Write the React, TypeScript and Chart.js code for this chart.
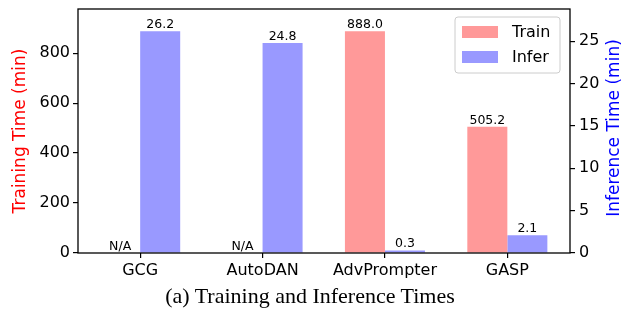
import React, { useEffect, useRef } from "react";
import { Chart, registerables } from "chart.js";

Chart.register(...registerables);

const categories = ["GCG", "AutoDAN", "AdvPrompter", "GASP"];
const trainTimes: (number | null)[] = [null, null, 888.0, 505.2];
const inferTimes: number[] = [26.2, 24.8, 0.3, 2.1];
const leftTicks = [0, 200, 400, 600, 800];
const rightTicks = [0, 5, 10, 15, 20, 25];
const seriesNames = ["Train", "Infer"];
const axisTitles = ["Training Time (min)", "Inference Time (min)"];
const caption = "(a) Training and Inference Times";

const FAMILY = "DejaVu Sans";
const TRAIN_COLOR = "#ff9999";
const INFER_COLOR = "#9999ff";

export default function App() {
  const canvasRef = useRef<HTMLCanvasElement | null>(null);

  useEffect(() => {
    document.body.style.margin = "0";
    const canvas = canvasRef.current;
    if (!canvas) return;

    const leftMax = Math.max(...trainTimes.map((v) => v ?? 0)) * 1.1;
    const rightMax = Math.max(...inferTimes) * 1.1;

    const overlayPlugin = {
      id: "overlay",
      afterDatasetsDraw(chart: any) {
        const ctx = chart.ctx;
        const area = chart.chartArea;
        ctx.save();
        // value labels
        ctx.font = `12.5px '${FAMILY}'`;
        ctx.fillStyle = "#000";
        ctx.textAlign = "center";
        ctx.textBaseline = "alphabetic";
        const trainMeta = chart.getDatasetMeta(0);
        trainMeta.data.forEach((bar: any, i: number) => {
          const v = trainTimes[i];
          const txt = v == null ? "N/A" : v.toFixed(1);
          ctx.fillText(txt, bar.x, bar.y - 3);
        });
        const inferMeta = chart.getDatasetMeta(1);
        inferMeta.data.forEach((bar: any, i: number) => {
          ctx.fillText(inferTimes[i].toFixed(1), bar.x, bar.y - 3);
        });
        // frame
        ctx.strokeStyle = "#000";
        ctx.lineWidth = 1.3;
        ctx.strokeRect(area.left, area.top, area.right - area.left, area.bottom - area.top);
        ctx.restore();
      },
      afterDraw(chart: any) {
        const ctx = chart.ctx;
        const area = chart.chartArea;
        ctx.save();
        // right axis title (bottom-to-top)
        ctx.font = `17px '${FAMILY}'`;
        ctx.fillStyle = "#0000ff";
        ctx.textAlign = "center";
        ctx.textBaseline = "middle";
        ctx.translate(615, (area.top + area.bottom) / 2 - 3);
        ctx.rotate(-Math.PI / 2);
        ctx.fillText(axisTitles[1], 0, 0);
        ctx.restore();

        // legend
        ctx.save();
        const bx = 455, by = 17, bw = 105, bh = 56, r = 3;
        ctx.beginPath();
        ctx.moveTo(bx + r, by);
        ctx.lineTo(bx + bw - r, by);
        ctx.arcTo(bx + bw, by, bx + bw, by + r, r);
        ctx.lineTo(bx + bw, by + bh - r);
        ctx.arcTo(bx + bw, by + bh, bx + bw - r, by + bh, r);
        ctx.lineTo(bx + r, by + bh);
        ctx.arcTo(bx, by + bh, bx, by + bh - r, r);
        ctx.lineTo(bx, by + r);
        ctx.arcTo(bx, by, bx + r, by, r);
        ctx.closePath();
        ctx.fillStyle = "rgba(255,255,255,0.8)";
        ctx.fill();
        ctx.strokeStyle = "#cccccc";
        ctx.lineWidth = 1;
        ctx.stroke();
        const colors = [TRAIN_COLOR, INFER_COLOR];
        ctx.font = `16px '${FAMILY}'`;
        ctx.textAlign = "left";
        ctx.textBaseline = "middle";
        seriesNames.forEach((name, i) => {
          const cy = by + 15 + i * 25;
          ctx.fillStyle = colors[i];
          ctx.fillRect(bx + 7, cy - 6, 36, 12);
          ctx.fillStyle = "#000";
          ctx.fillText(name, bx + 57, cy + 1);
        });
        ctx.restore();
      },
    };

    const tickGrid = {
      display: true,
      drawOnChartArea: false,
      drawTicks: true,
      tickLength: 5,
      color: "#000",
      lineWidth: 1.2,
      offset: false,
    };

    const zeroPad = (s: any) => {
      s.paddingTop = 0;
      s.paddingBottom = 0;
      s.paddingLeft = 0;
      s.paddingRight = 0;
    };

    const chart = new Chart(canvas, {
      type: "bar",
      data: {
        datasets: [
          {
            label: seriesNames[0],
            data: trainTimes.map((v, i) => ({ x: i, y: v ?? 0 })),
            backgroundColor: TRAIN_COLOR,
            borderWidth: 0,
            yAxisID: "y",
          },
          {
            label: seriesNames[1],
            data: inferTimes.map((v, i) => ({ x: i, y: v })),
            backgroundColor: INFER_COLOR,
            borderWidth: 0,
            yAxisID: "y1",
          },
        ],
      } as any,
      options: {
        animation: false,
        responsive: false,
        maintainAspectRatio: false,
        layout: { padding: { top: 9, bottom: 35, left: 0, right: 0 } },
        datasets: { bar: { categoryPercentage: 0.654, barPercentage: 1 } } as any,
        plugins: {
          legend: { display: false },
          tooltip: { enabled: false },
        },
        scales: {
          x: {
            type: "linear",
            min: -0.508,
            max: 3.512,
            offset: false,
            afterBuildTicks: (s: any) => {
              s.ticks = categories.map((_, i) => ({ value: i }));
            },
            ticks: {
              callback: (v: any) => categories[v as number] ?? "",
              font: { family: FAMILY, size: 16 },
              color: "#000",
              padding: 3,
              maxRotation: 0,
              autoSkip: false,
            },
            grid: tickGrid,
            border: { display: false },
            afterFit: (s: any) => {
              s.height = 30;
              zeroPad(s);
            },
          },
          y: {
            type: "linear",
            position: "left",
            min: 0,
            max: leftMax,
            afterBuildTicks: (s: any) => {
              s.ticks = leftTicks.map((v) => ({ value: v }));
            },
            ticks: {
              font: { family: FAMILY, size: 16 },
              color: "#000",
              padding: 3,
            },
            grid: tickGrid,
            border: { display: false },
            title: {
              display: true,
              text: axisTitles[0],
              color: "#ff0000",
              font: { family: FAMILY, size: 17 },
              padding: { top: 10, bottom: 0 },
            },
            afterFit: (s: any) => {
              s.width = 78;
              zeroPad(s);
            },
          },
          y1: {
            type: "linear",
            position: "right",
            min: 0,
            max: rightMax,
            afterBuildTicks: (s: any) => {
              s.ticks = rightTicks.map((v) => ({ value: v }));
            },
            ticks: {
              font: { family: FAMILY, size: 16 },
              color: "#000",
              padding: 4,
            },
            grid: tickGrid,
            border: { display: false },
            afterFit: (s: any) => {
              s.width = 53;
              zeroPad(s);
            },
          },
        } as any,
      },
      plugins: [overlayPlugin],
    });

    return () => {
      chart.destroy();
    };
  }, []);

  return (
    <div style={{ position: "relative", width: 623, height: 318 }}>
      <canvas ref={canvasRef} width={623} height={318} style={{ display: "block", width: 623, height: 318 }} />
      <div
        style={{
          position: "absolute",
          left: 0,
          top: 284,
          width: 620,
          textAlign: "center",
          fontFamily: "'Liberation Serif', serif",
          fontSize: 22,
          lineHeight: "24px",
          color: "#000",
          whiteSpace: "nowrap",
        }}
      >
        {caption}
      </div>
    </div>
  );
}
